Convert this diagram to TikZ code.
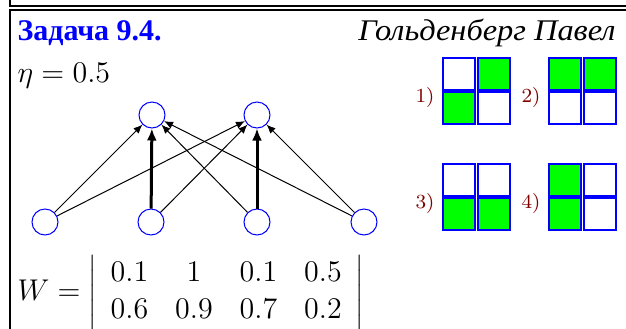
\documentclass[tikz,border=0pt]{standalone}
\usepackage{fontspec}
\newfontfamily\cyrfont{Liberation Serif}
\newfontfamily\cyrwide[FakeStretch=1.08]{Liberation Serif}
\usetikzlibrary{arrows.meta}

\begin{document}
\begin{tikzpicture}[
    x=0.4pt, y=-0.4pt,
    neuron/.style={circle, draw=blue, line width=0.4pt, minimum size=10.4pt, inner sep=0pt},
    arr/.style={-{Latex[length=3.6pt, width=3pt]}, line width=0.4pt},
    warr/.style={-{Latex[length=4.8pt, width=4pt]}, line width=1.2pt},
    boxline/.style={line width=0.8pt},
    cell/.style={draw=blue, line width=0.8pt, fill=#1},
    cell/.default=white,
    lbl/.style={font=\footnotesize, text=red!50!black}
]
\useasboundingbox (0,0) rectangle (626,328);

% Frames
\draw[boxline] (10,0) -- (10,5.5) -- (626,5.5);
\draw[boxline] (626,9.5) -- (10,9.5) -- (10,330);

% Header
\node[anchor=base west, inner sep=0pt, text=blue, font=\cyrfont\bfseries\large] (title) at (17,40) {Задача 9.4.};
\node[anchor=base east, inner sep=0pt, font=\cyrwide\itshape\large] (author) at (616,40) {Гольденберг Павел};
\node[anchor=base west, inner sep=0pt, font=\large] (eta) at (17,82) {$\eta = 0.5$};

% Outputs
\node[neuron] (out1) at (152,115) {};
\node[neuron] (out2) at (257,115) {};

% Inputs
\node[neuron] (in1) at (45,222) {};
\node[neuron] (in2) at (151,222) {};
\node[neuron] (in3) at (257,222) {};
\node[neuron] (in4) at (364,222) {};

% Arrows
\draw[arr] (in1) -- (out1);
\draw[arr] (in1) -- (out2);
\draw[warr] (in2) -- (out1);
\draw[arr] (in2) -- (out2);
\draw[arr] (in3) -- (out1);
\draw[warr] (in3) -- (out2);
\draw[arr] (in4) -- (out1);
\draw[arr] (in4) -- (out2);

% Weights
\node[anchor=west, inner sep=0pt, font=\fontsize{13}{15.5}\selectfont] (wmat) at (17,293)
    {$\arraycolsep=5.4pt \renewcommand{\arraystretch}{0.95}
      W = \left|\begin{array}{cccc} 0.1 & 1 & 0.1 & 0.5\\ 0.6 & 0.9 & 0.7 & 0.2 \end{array}\right|$};

% Answer variants
\foreach \gx/\gy/\ctl/\ctr/\cbl/\cbr/\n in {
    443/58/white/green/green/white/1,
    549/58/green/green/white/white/2,
    443/164/white/white/green/green/3,
    549/164/green/white/green/white/4} {
  \node[lbl] (var\n) at (\gx-18,\gy+39) {\n)};
  \draw[cell=\ctl] (\gx,\gy) rectangle ++(32,32);
  \draw[cell=\ctr] (\gx+35,\gy) rectangle ++(32,32);
  \draw[cell=\cbl] (\gx,\gy+34) rectangle ++(32,32);
  \draw[cell=\cbr] (\gx+35,\gy+34) rectangle ++(32,32);
}

\end{tikzpicture}
\end{document}
